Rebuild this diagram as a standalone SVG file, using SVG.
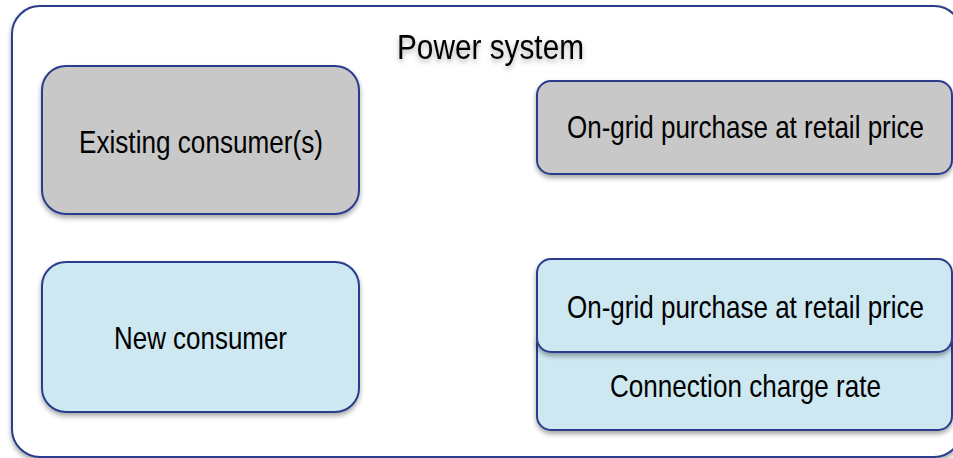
<svg xmlns="http://www.w3.org/2000/svg" width="953" height="458" viewBox="0 0 953 458">
  <defs>
    <filter id="sh" x="-10%" y="-10%" width="120%" height="130%">
      <feDropShadow dx="0" dy="3" stdDeviation="2.5" flood-color="#000" flood-opacity="0.35"/>
    </filter>
    <filter id="tsh" x="-10%" y="-20%" width="120%" height="160%">
      <feDropShadow dx="0" dy="3" stdDeviation="2.5" flood-color="#000" flood-opacity="0.3"/>
    </filter>
  </defs>
  <style>
    .box { stroke: #2a3d8c; stroke-width: 2; filter: url(#sh); }
    .gray { fill: #c8c8c8; }
    .blue { fill: #cde8f1; }
    .frame { fill: #ffffff; stroke: #2a3d8c; stroke-width: 2; filter: url(#sh); }
    text { font-family: "Liberation Sans", Arial, sans-serif; font-size: 32px; fill: #000; text-anchor: middle; }
    .title { font-size: 35px; filter: url(#tsh); }
  </style>
  <rect width="953" height="458" fill="#ffffff"/>
  <g id="power-system">
    <rect class="frame" x="12" y="6" width="950" height="451" rx="28" ry="28"/>
    <text class="title" x="490.5" y="59" textLength="187" lengthAdjust="spacingAndGlyphs">Power system</text>
  </g>
  <g id="existing-consumers">
    <rect class="box gray" x="42" y="66" width="317" height="148" rx="24" ry="24"/>
    <text x="201" y="153" textLength="244" lengthAdjust="spacingAndGlyphs">Existing consumer(s)</text>
  </g>
  <g id="existing-purchase">
    <rect class="box gray" x="537" y="81" width="415" height="93" rx="14" ry="14"/>
    <text x="745.5" y="138" textLength="357" lengthAdjust="spacingAndGlyphs">On-grid purchase at retail price</text>
  </g>
  <g id="new-consumer">
    <rect class="box blue" x="42" y="262" width="317" height="150" rx="24" ry="24"/>
    <text x="200.5" y="349" textLength="173" lengthAdjust="spacingAndGlyphs">New consumer</text>
  </g>
  <g id="connection-charge">
    <rect class="box blue" x="537" y="330" width="415" height="100" rx="14" ry="14"/>
    <text x="745.5" y="397" textLength="271" lengthAdjust="spacingAndGlyphs">Connection charge rate</text>
  </g>
  <g id="new-purchase">
    <rect class="box blue" x="537" y="259" width="415" height="93" rx="14" ry="14"/>
    <text x="745.5" y="318" textLength="357" lengthAdjust="spacingAndGlyphs">On-grid purchase at retail price</text>
  </g>
  <g id="connectors"></g>
</svg>
